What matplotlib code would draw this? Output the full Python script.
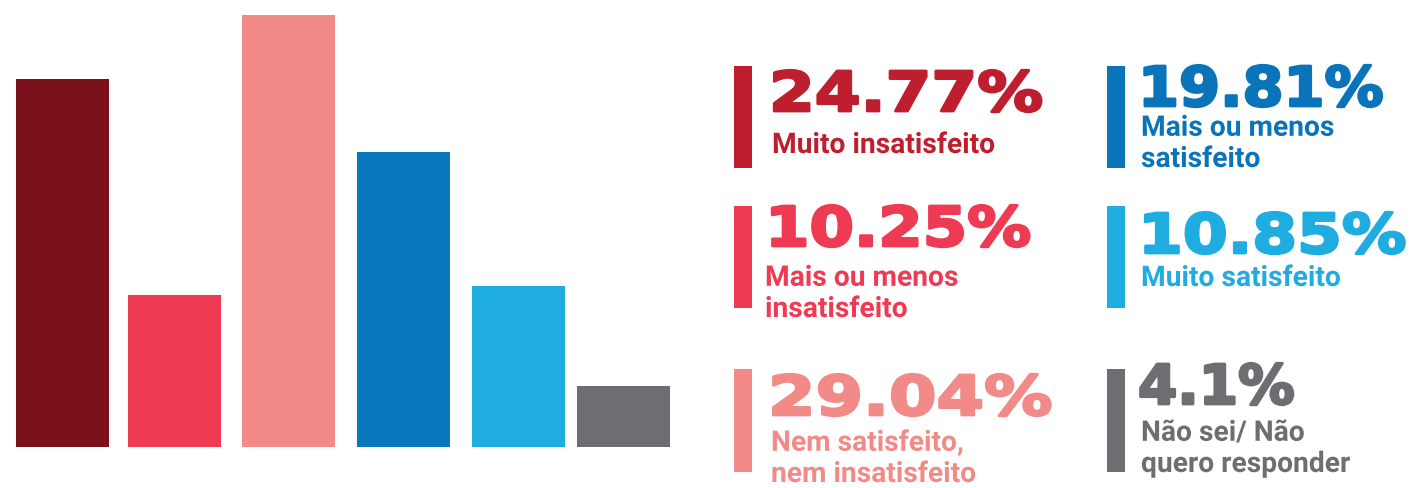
import matplotlib
matplotlib.use("Agg")
import matplotlib.pyplot as plt
from matplotlib.patches import Rectangle
from matplotlib.patheffects import AbstractPathEffect
from matplotlib.transforms import Affine2D

# ---------------- data ----------------
categories = [
    "Muito insatisfeito",
    "Mais ou menos insatisfeito",
    "Nem satisfeito, nem insatisfeito",
    "Mais ou menos satisfeito",
    "Muito satisfeito",
    "Não sei/ Não quero responder",
]
values = [24.77, 10.25, 29.04, 19.81, 10.85, 4.1]
value_labels = ["24.77%", "10.25%", "29.04%", "19.81%", "10.85%", "4.1%"]
legend_labels = [
    "Muito insatisfeito",
    "Mais ou menos\ninsatisfeito",
    "Nem satisfeito,\nnem insatisfeito",
    "Mais ou menos\nsatisfeito",
    "Muito satisfeito",
    "Não sei/ Não\nquero responder",
]

# ---------------- styles ----------------
bar_colors = ["#7B111A", "#EE3A53", "#F28A87", "#0877BC", "#1EACE1", "#6D6E71"]
text_colors = ["#BE1E2D", "#EF3A53", "#F28A87", "#0A74BA", "#1EACE1", "#6D6E71"]

W, H = 1415, 489
fig = plt.figure(figsize=(W / 100, H / 100), dpi=100)
fig.patch.set_facecolor("white")


class Stretch(AbstractPathEffect):
    """Horizontally scale (and optionally embolden) the glyph outlines of a text."""

    def __init__(self, sx=1.0, lw=0.0):
        super().__init__()
        self.sx = sx
        self.lw = lw

    def draw_path(self, renderer, gc, tpath, affine, rgbFace=None):
        aff = Affine2D().scale(self.sx, 1.0) + affine
        if self.lw > 0 and rgbFace is not None:
            gc0 = renderer.new_gc()
            gc0.copy_properties(gc)
            gc0.set_linewidth(self.lw)
            gc0.set_foreground(rgbFace)
            gc0.set_joinstyle("round")
            renderer.draw_path(gc0, tpath, aff, rgbFace)
            gc0.restore()
        else:
            renderer.draw_path(gc, tpath, aff, rgbFace)


# ---------------- bar chart ----------------
bar_bottom_px, bar_top_px = 448, 16
ax = fig.add_axes([0, (H - bar_bottom_px) / H, 700 / W, (bar_bottom_px - bar_top_px) / H])
bar_x = [62.5, 174.5, 288.5, 403.5, 518.5, 623.5]   # layout (px)
ax.bar(bar_x, values, width=93, color=bar_colors, linewidth=0)
ax.set_xlim(0, 700)
ax.set_ylim(0, max(values))
ax.axis("off")

# ---------------- legend panel ----------------
ov = fig.add_axes([0, 0, 1, 1])
ov.set_xlim(0, W)
ov.set_ylim(H, 0)
ov.axis("off")

# layout per block: (bar_x, bar_top, bar_bottom, number_x, number_baseline,
#                    label_x, last-line baseline, stretch)
layout = [
    (734, 67, 169, 769, 112, 772, 154, 1.2),
    (734, 207, 309, 765, 247, 765, 318, 1.165),
    (734, 370, 473, 768, 416, 771, 483, 1.245),
    (1107, 67, 169, 1138, 107, 1141, 168, 1.075),
    (1107, 207, 309, 1138, 254, 1141, 287, 1.175),
    (1107, 370, 473, 1138, 405, 1141, 473, 1.03),
]

num_font = dict(family="DejaVu Sans", weight="bold", size=39.5)
lab_font = dict(family="Roboto", weight="bold", size=20.5)

for i in range(len(values)):
    bx, bt, bb, nx, nb, lx, lb, sx = layout[i]
    ov.add_patch(Rectangle((bx, bt), 18, bb - bt, color=text_colors[i], linewidth=0))
    ov.text(nx, nb, value_labels[i], color=text_colors[i], ha="left", va="baseline",
            path_effects=[Stretch(sx, lw=2.0)], **num_font)
    ov.text(lx, lb, legend_labels[i], color=text_colors[i], ha="left", va="baseline",
            linespacing=1.2, path_effects=[Stretch(0.99)], **lab_font)

fig.savefig("out.png", dpi=100, facecolor="white")
